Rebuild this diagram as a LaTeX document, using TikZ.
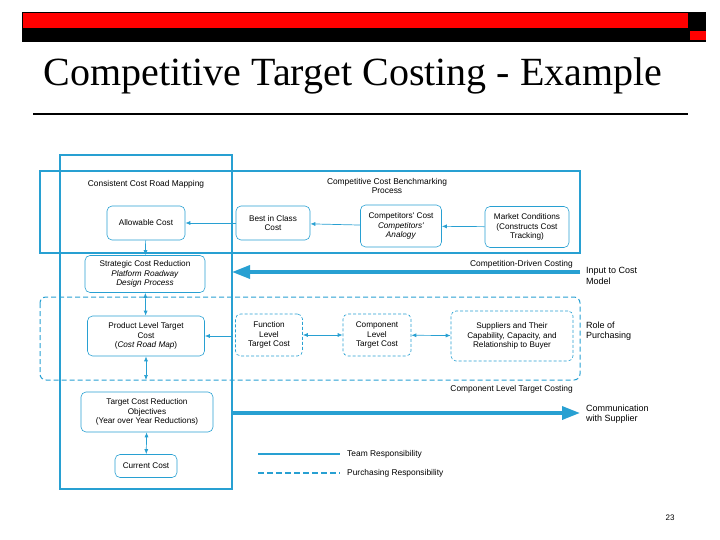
\documentclass[tikz,border=0pt]{standalone}
\usepackage{fontspec}
\setmainfont{Liberation Serif}
\newfontfamily\sfx{Liberation Sans}
\usetikzlibrary{arrows.meta}
\definecolor{bl}{RGB}{40,160,210}
\begin{document}
\begin{tikzpicture}[x=1pt,y=-1pt,
  box/.style={draw=bl,rounded corners=5pt,line width=0.6pt,align=center,font=\sfx\fontsize{8.2}{9.4}\selectfont,inner sep=1pt},
  dbox/.style={box,dash pattern=on 3pt off 2pt},
  lbl/.style={font=\sfx\fontsize{8.4}{9.6}\selectfont,align=left,inner sep=0pt},
  con/.style={draw=bl,line width=0.7pt,-{Latex[length=5pt,width=4pt]}},
  dcon/.style={con,{Latex[length=5pt,width=4pt]}-{Latex[length=5pt,width=4pt]}},
  thick/.style={draw=bl,line width=3.5pt,-{Triangle[length=18pt,width=13pt]}}]
\useasboundingbox (0,0) rectangle (720,540);
% header
\fill[black] (22,12) rectangle (706,42);
\fill[red] (23,13) rectangle (688,28);
\fill[red] (690,31) rectangle (706,40);
\node (title) at (353,76) {\fontsize{40}{44}\selectfont Competitive Target Costing - Example};
\draw[line width=1.2pt] (33,114) -- (688,114);
% frames
\draw[bl,line width=1.6pt] (60,155) rectangle (232,489);
\draw[bl,line width=1.6pt] (40,171) rectangle (580,253);
\draw[bl,line width=1pt,dash pattern=on 5pt off 3pt,rounded corners=6pt] (40,297) rectangle (580,380);
% nodes
\node[box,minimum width=78pt,minimum height=34pt] (allow) at (146,223) {Allowable Cost};
\node[box,minimum width=74pt,minimum height=34pt] (best) at (273,223) {Best in Class\\Cost};
\node[box,minimum width=81pt,minimum height=42pt] (comp) at (401,226) {Competitors' Cost\\\textit{Competitors'}\\\textit{Analogy}};
\node[box,minimum width=84pt,minimum height=41pt] (mkt) at (527,227) {Market Conditions\\(Constructs Cost\\Tracking)};
\node[box,minimum width=120pt,minimum height=37pt] (strat) at (145,274) {Strategic Cost Reduction\\\textit{Platform Roadway}\\\textit{Design Process}};
\node[box,minimum width=117pt,minimum height=40pt] (prod) at (146,336) {Product Level Target\\Cost\\(\textit{Cost Road Map})};
\node[dbox,minimum width=67pt,minimum height=42pt] (func) at (269,335) {Function\\Level\\Target Cost};
\node[dbox,minimum width=68pt,minimum height=42pt] (cmp) at (377,335) {Component\\Level\\Target Cost};
\node[dbox,minimum width=122pt,minimum height=50pt] (sup) at (512,336) {Suppliers and Their\\Capability, Capacity, and\\Relationship to Buyer};
\node[box,minimum width=132pt,minimum height=40pt] (tcr) at (147,412) {Target Cost Reduction\\Objectives\\(Year over Year Reductions)};
\node[box,minimum width=62pt,minimum height=23pt] (cur) at (146,466) {Current Cost};
% labels
\node[lbl] (l1) at (146,184) {Consistent Cost Road Mapping};
\node[lbl,align=center] (l2) at (387,186) {Competitive Cost Benchmarking\\Process};
\node[lbl,anchor=east] (l3) at (573,264) {Competition-Driven Costing};
\node[lbl,anchor=west,font=\sfx\fontsize{9}{10.5}\selectfont] (l4) at (586,276) {Input to Cost\\Model};
\node[lbl,anchor=west,font=\sfx\fontsize{9}{10.5}\selectfont] (l5) at (586,331) {Role of\\Purchasing};
\node[lbl,anchor=east] (l6) at (573,389) {Component Level Target Costing};
\node[lbl,anchor=west,font=\sfx\fontsize{9}{10.5}\selectfont] (l7) at (586,414) {Communication\\with Supplier};
\node[lbl,anchor=west] (l8) at (347,454) {Team Responsibility};
\node[lbl,anchor=west] (l9) at (347,473) {Purchasing Responsibility};
\node[font=\sfx\fontsize{8}{9}\selectfont] (pg) at (670,518) {23};
% coordinates
\coordinate (a1) at (580,272); \coordinate (a2) at (232,272);
\coordinate (b1) at (232,413); \coordinate (b2) at (580,413);
\coordinate (p0) at (146,380); \coordinate (pr) at (232,336);
\coordinate (g1) at (258,454); \coordinate (g2) at (340,454);
\coordinate (h1) at (258,473); \coordinate (h2) at (340,473);
% connectors
\draw[con] (mkt) -- (comp);
\draw[con] (comp) -- (best);
\draw[con] (best) -- (allow);
\draw[con] (allow) -- (strat);
\draw[dcon] (strat) -- (prod);
\draw[dcon] (prod) -- (p0);
\draw[con] (pr) -- (prod);
\draw[dcon] (func) -- (cmp);
\draw[dcon] (cmp) -- (sup);
\draw[dcon] (tcr) -- (cur);
\draw[thick] (a1) -- (a2);
\draw[thick] (b1) -- (b2);
\draw[bl,line width=1.4pt] (g1) -- (g2);
\draw[bl,line width=1.4pt,dash pattern=on 6pt off 3pt] (h1) -- (h2);
\end{tikzpicture}
\end{document}
